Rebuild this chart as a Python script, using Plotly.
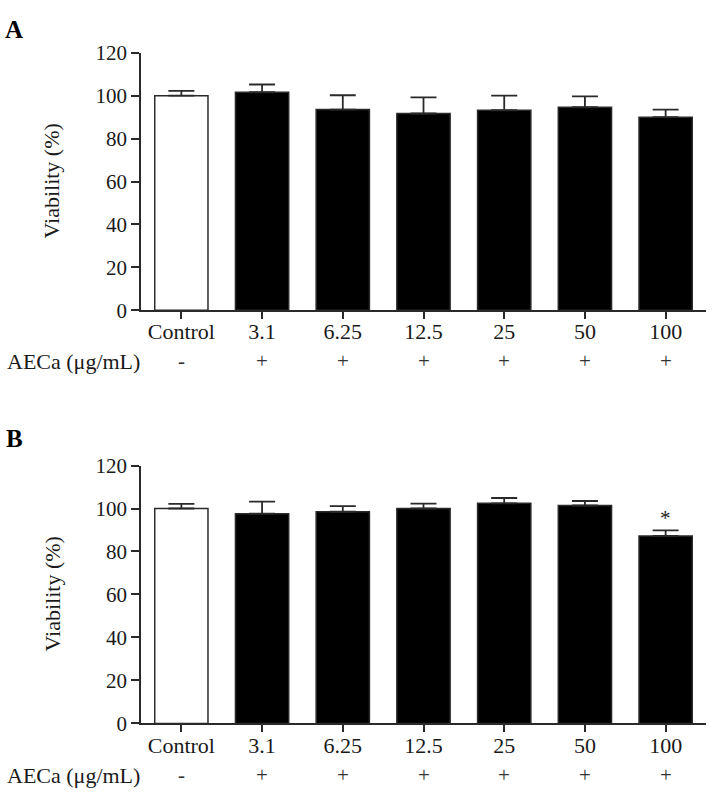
import plotly.graph_objects as go

categories = ["Control", "3.1", "6.25", "12.5", "25", "50", "100"]
treatment = ["-", "+", "+", "+", "+", "+", "+"]
viability_a = [100.0, 101.6, 93.5, 91.7, 93.2, 94.6, 90.0]
error_a = [2.2, 3.6, 6.7, 7.5, 6.8, 5.1, 3.5]
viability_b = [100.0, 97.6, 98.5, 100.0, 102.4, 101.4, 87.2]
error_b = [2.2, 5.6, 2.6, 2.3, 2.5, 2.1, 2.6]
y_ticks = [0, 20, 40, 60, 80, 100, 120]
panel_labels = ["A", "B"]
row_label = "AECa (μg/mL)"
y_title = "Viability (%)"
signif_b = ["", "", "", "", "", "", "*"]

W, H = 712, 803
FONT = "Liberation Serif"
FS = 21
INK = "#1a1a1a"
LINE = "#2a2a2a"

idx = list(range(len(categories)))
fill_colors = ["white"] + ["black"] * (len(categories) - 1)

x_dom = [141 / W, 706 / W]
dom_a = [1 - 307.5 / H, 1 - 42 / H]
dom_b = [1 - 733.3 / H, 1 - 467.5 / H]

fig = go.Figure()

for vals, errs, xa, ya in [(viability_a, error_a, "x", "y"), (viability_b, error_b, "x2", "y2")]:
    fig.add_trace(go.Bar(
        x=idx, y=vals, xaxis=xa, yaxis=ya,
        width=0.66,
        marker=dict(color=fill_colors, line=dict(color=LINE, width=1.5)),
        error_y=dict(type="data", array=errs, arrayminus=[0] * len(errs), symmetric=False,
                     color=LINE, thickness=1.8, width=13),
        showlegend=False, hoverinfo="skip",
    ))

axis_common_x = dict(
    range=[-0.5, 6.5], tickvals=idx, ticktext=categories,
    showline=True, linecolor=LINE, linewidth=1.5,
    ticks="outside", ticklen=7, tickwidth=1.5, tickcolor=LINE,
    tickfont=dict(family=FONT, size=22, color=INK), showgrid=False, zeroline=False,
    ticklabelstandoff=-6,
)
axis_common_y = dict(
    range=[0, 120], tickvals=y_ticks, showline=True, linecolor=LINE, linewidth=1.5,
    ticks="outside", ticklen=8, tickwidth=1.5, tickcolor=LINE,
    tickfont=dict(family=FONT, size=FS, color=INK), showgrid=False, zeroline=False,
)

fig.update_layout(
    width=W, height=H,
    margin=dict(l=0, r=0, t=0, b=0),
    paper_bgcolor="white", plot_bgcolor="white",
    xaxis=dict(domain=x_dom, anchor="y", **axis_common_x),
    yaxis=dict(domain=dom_a, anchor="x", **axis_common_y),
    xaxis2=dict(domain=x_dom, anchor="y2", **axis_common_x),
    yaxis2=dict(domain=dom_b, anchor="x2", **axis_common_y),
)

annotations = []
for lab, ypx in zip(panel_labels, [18, 440]):
    annotations.append(dict(text="<b>%s</b>" % lab, x=14 / W, y=1 - ypx / H, xref="paper", yref="paper",
                            showarrow=False, font=dict(family=FONT, size=25, color="black"),
                            xanchor="center", yanchor="middle"))
for dom in [dom_a, dom_b]:
    annotations.append(dict(text=y_title, x=52 / W, y=(dom[0] + dom[1]) / 2, xref="paper", yref="paper",
                            textangle=-90, showarrow=False, font=dict(family=FONT, size=22, color=INK),
                            xanchor="center", yanchor="middle"))
for xa, ypx in [("x", 360), ("x2", 786.7)]:
    annotations.append(dict(text=row_label, x=5 / W, y=1 - ypx / H, xref="paper", yref="paper",
                            showarrow=False, font=dict(family=FONT, size=22, color=INK),
                            xanchor="left", yanchor="middle"))
    for i, sym in zip(idx, treatment):
        annotations.append(dict(text=sym, x=i, y=1 - ypx / H, xref=xa, yref="paper",
                                showarrow=False, font=dict(family=FONT, size=FS, color="#333"),
                                xanchor="center", yanchor="middle"))
for i, v, e, s in zip(idx, viability_b, error_b, signif_b):
    if s:
        annotations.append(dict(text=s, x=i, y=v + e, xref="x2", yref="y2", showarrow=False,
                                font=dict(family=FONT, size=FS, color=INK),
                                xanchor="center", yanchor="bottom", yshift=-2))

fig.update_layout(annotations=annotations)
fig.write_html("out.html")
